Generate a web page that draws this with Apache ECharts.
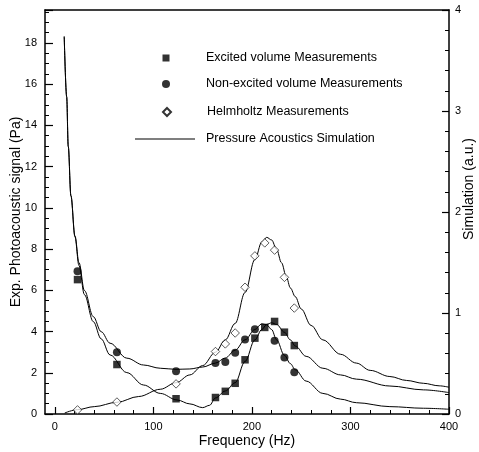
<!DOCTYPE html>
<html>
<head>
<meta charset="utf-8">
<script src="https://cdn.jsdelivr.net/npm/echarts@6/dist/echarts.min.js"></script>
<style>html,body{margin:0;padding:0;background:#fff}#c{width:479px;height:452px}</style>
</head>
<body>
<div id="c"></div>
<script>
// Measurement frequencies (Hz)
const measFreq = [23, 63, 123, 163, 173, 183, 193, 203, 213, 223, 233, 243];
// Exp. photoacoustic signal (Pa)
const excited    = [6.52, 2.40, 0.74, 0.80, 1.10, 1.49, 2.63, 3.68, 4.20, 4.49, 3.97, 3.32];
const nonExcited = [6.92, 2.99, 2.07, 2.47, 2.52, 2.97, 3.62, 4.11, null, 3.55, 2.74, 2.02];
const helmholtz  = [0.20, 0.58, 1.46, 3.03, 3.40, 3.93, 6.15, 7.67, 8.30, 7.95, 6.63, 5.14];

// Simulation curves (a.u., right axis)
const simHelmFreq = [10, 23, 40, 63, 85, 107, 123, 137, 150, 163, 173, 183, 193, 203, 210, 215, 220, 225, 230, 235, 239, 244, 250, 260, 272, 290, 306, 320, 340, 357, 374, 390, 400];
const simHelm     = [0.010, 0.043, 0.073, 0.116, 0.173, 0.245, 0.310, 0.387, 0.479, 0.612, 0.734, 0.897, 1.203, 1.529, 1.702, 1.749, 1.723, 1.631, 1.498, 1.356, 1.248, 1.162, 1.040, 0.877, 0.734, 0.591, 0.504, 0.432, 0.371, 0.332, 0.304, 0.279, 0.265];

const simNonExcFreq = [9.5, 12, 13.6, 16.3, 20.4, 24.5, 30, 39, 47, 56, 73, 90, 107, 123, 137, 150, 163, 173, 183, 193, 203, 210, 215, 220, 225, 233, 239, 244, 255, 272, 290, 306, 340, 374, 400];
const simNonExc     = [3.737, 3.140, 2.650, 2.161, 1.764, 1.498, 1.223, 0.964, 0.815, 0.701, 0.553, 0.485, 0.453, 0.442, 0.446, 0.465, 0.504, 0.555, 0.632, 0.734, 0.836, 0.893, 0.883, 0.836, 0.734, 0.581, 0.499, 0.438, 0.326, 0.204, 0.147, 0.112, 0.073, 0.057, 0.047];

const simExcFreq = [9.5, 12, 13.6, 16.3, 20.4, 24.5, 30, 39, 47, 56, 73, 90, 107, 124, 137, 150, 157, 163, 173, 183, 193, 203, 210, 215, 220, 225, 233, 239, 244, 255, 272, 290, 306, 340, 374, 400];
const simExc     = [3.737, 3.140, 2.650, 2.161, 1.753, 1.468, 1.182, 0.915, 0.744, 0.585, 0.410, 0.287, 0.204, 0.139, 0.100, 0.063, 0.086, 0.159, 0.228, 0.310, 0.520, 0.734, 0.836, 0.887, 0.903, 0.887, 0.809, 0.734, 0.673, 0.571, 0.453, 0.387, 0.345, 0.277, 0.239, 0.212];

// Tick positions
const xMajorTicks = [0, 100, 200, 300, 400];
const xMinorTicks = [20, 40, 60, 80, 120, 140, 160, 180, 220, 240, 260, 280, 320, 340, 360, 380];

const N_EXC = 'Excited volume Measurements';
const N_NON = 'Non-excited volume Measurements';
const N_HEL = 'Helmholtz Measurements';
const N_SIM = 'Pressure Acoustics Simulation';

const FONT = '"Liberation Sans", Arial, Helvetica, sans-serif';
const BLACK = '#000';

function pairs(xs, ys) { return xs.map((x, i) => [x, ys[i]]); }

const chart = echarts.init(document.getElementById('c'), null, {renderer: 'canvas'});
const axisLine = {show: true, onZero: false, lineStyle: {color: BLACK, width: 1.5}};
const legendText = (pad) => ({fontFamily: FONT, fontSize: 12.5, color: BLACK, lineHeight: 14, padding: [0, 0, 0, pad]});

function symLegend(name, top, size) {
  return {orient: 'horizontal', left: 166 - size / 2, top: top, padding: 0, selectedMode: false,
    itemWidth: size, itemHeight: size, symbolKeepAspect: true,
    textStyle: legendText(206 - (166 + size / 2) - 5), data: [name]};
}

chart.setOption({
  animation: false,
  backgroundColor: '#fff',
  textStyle: {fontFamily: FONT, color: BLACK},
  grid: {left: 45, right: 30, top: 10, bottom: 38, containLabel: false, outerBoundsMode: 'none'},
  legend: [
    symLegend(N_EXC, 51, 7),
    symLegend(N_NON, 77, 8),
    symLegend(N_HEL, 105, 8),
    {orient: 'horizontal', left: 135, top: 132, padding: 0, selectedMode: false,
     itemWidth: 60, itemHeight: 1, textStyle: legendText(6),
     data: [{name: N_SIM, icon: 'rect'}]}
  ],
  xAxis: [
    {type: 'value', min: -10, max: 400, position: 'bottom',
     axisLine: axisLine,
     axisTick: {show: true, inside: true, length: 7, customValues: xMajorTicks, lineStyle: {color: BLACK, width: 1.2}},
     axisLabel: {customValues: xMajorTicks, color: BLACK, fontSize: 11, margin: 7, fontFamily: FONT},
     splitLine: {show: false},
     name: 'Frequency (Hz)', nameLocation: 'middle', nameGap: 20, nameMoveOverlap: false,
     nameTextStyle: {fontFamily: FONT, fontSize: 14, color: BLACK}},
    {type: 'value', min: -10, max: 400, position: 'bottom',
     axisLine: {show: false},
     axisTick: {show: true, inside: true, length: 4, customValues: xMinorTicks, lineStyle: {color: BLACK, width: 1}},
     axisLabel: {show: false}, splitLine: {show: false}},
    {type: 'value', min: -10, max: 400, position: 'top',
     axisLine: axisLine, axisTick: {show: false}, axisLabel: {show: false}, splitLine: {show: false}}
  ],
  yAxis: [
    {type: 'value', min: 0, max: 19.6, interval: 2, position: 'left',
     axisLine: axisLine,
     axisTick: {show: true, inside: true, length: 8, lineStyle: {color: BLACK, width: 1.2}},
     minorTick: {show: true, splitNumber: 4, length: 4, lineStyle: {color: BLACK, width: 1}},
     axisLabel: {showMaxLabel: false, color: BLACK, fontSize: 11, margin: 8, fontFamily: FONT},
     splitLine: {show: false}, minorSplitLine: {show: false},
     name: 'Exp. Photoacoustic signal (Pa)', nameLocation: 'middle', nameGap: 22, nameMoveOverlap: false,
     nameTextStyle: {fontFamily: FONT, fontSize: 14, color: BLACK}},
    {type: 'value', min: 0, max: 4, interval: 1, position: 'right',
     axisLine: axisLine,
     axisTick: {show: true, inside: true, length: 7, lineStyle: {color: BLACK, width: 1.2}},
     minorTick: {show: true, splitNumber: 5, length: 4, lineStyle: {color: BLACK, width: 1}},
     axisLabel: {color: BLACK, fontSize: 11, margin: 6, fontFamily: FONT},
     splitLine: {show: false}, minorSplitLine: {show: false},
     name: 'Simulation (a.u.)', nameLocation: 'middle', nameGap: 13, nameMoveOverlap: false,
     nameTextStyle: {fontFamily: FONT, fontSize: 14, color: BLACK, padding: [0, 0, 0, 46]}}
  ],
  series: [
    {name: N_SIM, type: 'line', yAxisIndex: 1, data: pairs(simHelmFreq, simHelm),
     showSymbol: false, symbol: 'none', smooth: 0.35, smoothMonotone: 'x',
     lineStyle: {color: BLACK, width: 1}, itemStyle: {color: BLACK}, z: 2},
    {name: N_SIM, type: 'line', yAxisIndex: 1, data: pairs(simNonExcFreq, simNonExc),
     showSymbol: false, symbol: 'none', smooth: 0.35, smoothMonotone: 'x',
     lineStyle: {color: BLACK, width: 1}, itemStyle: {color: BLACK}, z: 2},
    {name: N_SIM, type: 'line', yAxisIndex: 1, data: pairs(simExcFreq, simExc),
     showSymbol: false, symbol: 'none', smooth: 0.35, smoothMonotone: 'x',
     lineStyle: {color: BLACK, width: 1}, itemStyle: {color: BLACK}, z: 2},
    {name: N_EXC, type: 'scatter', yAxisIndex: 0, data: pairs(measFreq, excited),
     symbol: 'rect', symbolSize: 7.5, itemStyle: {color: BLACK}, z: 5},
    {name: N_NON, type: 'scatter', yAxisIndex: 0, data: pairs(measFreq, nonExcited),
     symbol: 'circle', symbolSize: 8, itemStyle: {color: BLACK}, z: 5},
    {name: N_HEL, type: 'scatter', yAxisIndex: 0, data: pairs(measFreq, helmholtz),
     symbol: 'diamond', symbolSize: 8.5, itemStyle: {color: '#fff', borderColor: BLACK, borderWidth: 0.8}, z: 5}
  ]
});
</script>
</body>
</html>
